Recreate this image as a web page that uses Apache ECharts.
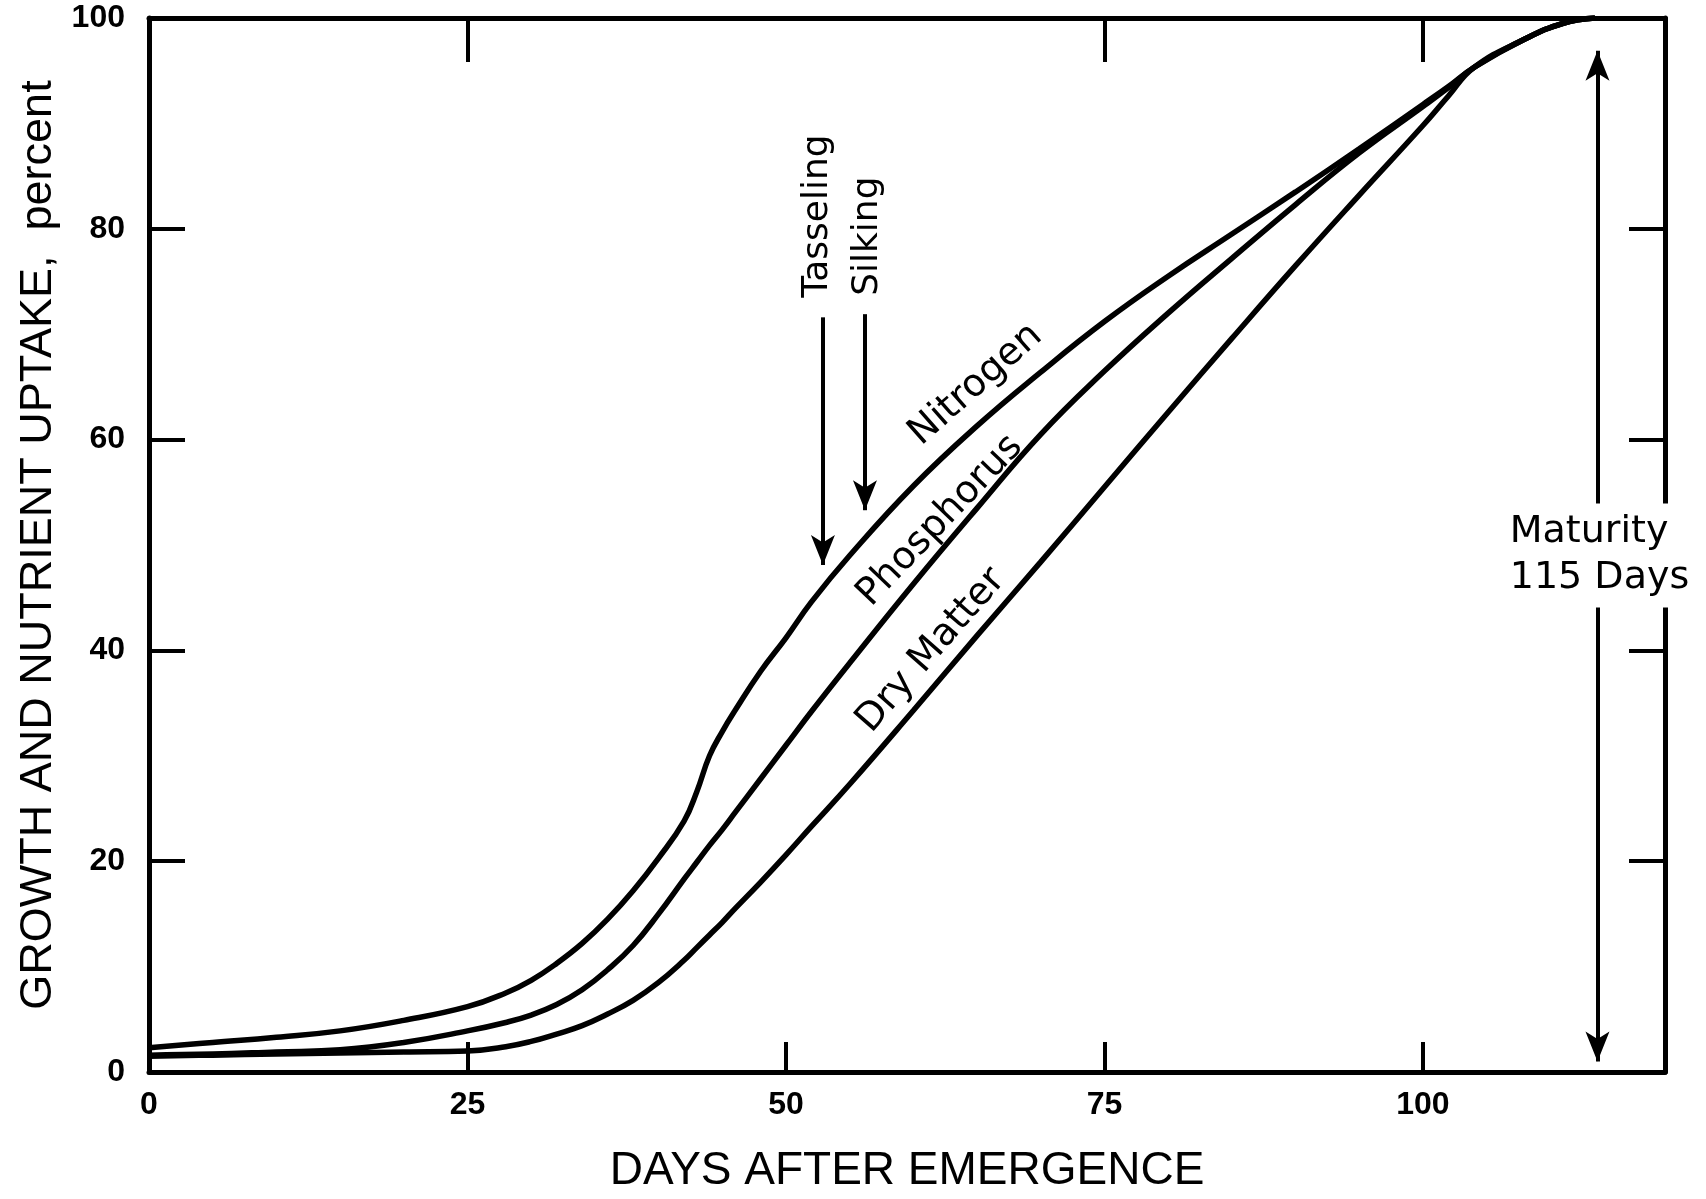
<!DOCTYPE html>
<html>
<head>
<meta charset="utf-8">
<script src="https://cdn.jsdelivr.net/npm/echarts@6.0.0/dist/echarts.min.js"></script>
<style>
  html, body { margin: 0; padding: 0; background: #fff; }
  #uptake { width: 1706px; height: 1199px; }
</style>
</head>
<body>
<div id="uptake"></div>
<script>
// days after emergence, shared by the three curves
var days = [0, 5, 10, 15, 20, 25, 28, 30, 32, 34, 36, 38, 40, 42, 43, 44, 45, 46, 48, 50,
            52, 55, 60, 65, 70, 75, 80, 85, 90, 95, 100, 102, 104, 108, 111, 113.5];

// percent of final uptake
var nitrogen   = [2.3, 2.8, 3.3, 3.9, 4.9, 6.2, 7.5, 8.7, 10.3, 12.2, 14.5, 17.2, 20.3, 23.8, 26.6, 30.0, 32.3, 34.3, 38.0, 41.2,
                  44.6, 49.0, 55.6, 61.3, 66.4, 71.2, 75.5, 79.5, 83.5, 87.6, 91.8, 93.5, 95.3, 98.0, 99.5, 100];
var phosphorus = [1.6, 1.7, 1.9, 2.1, 2.8, 3.9, 4.7, 5.4, 6.4, 7.8, 9.7, 12.0, 15.0, 18.3, 19.9, 21.5, 23.0, 24.6, 27.8, 31.0,
                  34.2, 38.8, 46.3, 53.5, 60.5, 66.5, 72.0, 77.2, 82.3, 87.2, 91.6, 93.4, 95.3, 98.0, 99.5, 100];
var dryMatter  = [1.5, 1.6, 1.7, 1.8, 1.9, 2.0, 2.4, 2.9, 3.6, 4.4, 5.5, 6.8, 8.5, 10.6, 11.8, 13.0, 14.2, 15.5, 18.0, 20.6,
                  23.3, 27.3, 34.3, 41.4, 48.4, 55.5, 62.6, 69.6, 76.5, 83.2, 89.8, 92.6, 95.3, 98.0, 99.5, 100];

// curve names with the point (day, percent) and angle where each name sits
var curveNames  = ['Nitrogen', 'Phosphorus', 'Dry Matter'];
var curveLabelAt = [[64.9, 65.2], [62.1, 52.3], [61.4, 40.0]];
var curveLabelAngle = [41.5, 46.3, 48.7];

// growth stages: [day, arrow start, arrow tip]
var stageNames  = ['Tasseling', 'Silking'];
var stageArrows = [[52.9, 71.6, 48.1], [56.2, 71.9, 53.3]];
var stageLabelAt = [[52.5, 81.2], [56.4, 79.3]];

// maturity arrow: day, upper piece, lower piece
var maturityDay = 113.7;
var maturityUp = [53.8, 96.9];
var maturityDown = [44.6, 1.0];
var maturityLabelAt = [106.5, 49.0];

var yTicks = [0, 20, 40, 60, 80, 100];
var xTopTicks = [25, 75, 100];

var tickFont = '"Liberation Sans Narrow", "Liberation Sans", sans-serif';
var textFont = '"DejaVu Sans", sans-serif';
var titleFont = '"Liberation Sans", sans-serif';

function pairs(ys) {
    return days.map(function (d, i) { return [d, ys[i]]; });
}

function curve(name, ys, idx) {
    return {
        name: name,
        type: 'line',
        data: pairs(ys),
        showSymbol: false,
        smooth: 0.45,
        silent: true,
        z: 3,
        lineStyle: { color: '#000', width: 5.5 },
        markPoint: {
            silent: true,
            symbol: 'circle',
            symbolSize: 0,
            data: [{
                coord: curveLabelAt[idx],
                label: {
                    show: true,
                    position: 'inside',
                    formatter: name,
                    rotate: curveLabelAngle[idx],
                    color: '#000',
                    fontFamily: textFont,
                    fontSize: 38
                }
            }]
        }
    };
}

var arrowLines = stageArrows.map(function (a) {
    return [{ coord: [a[0], a[1]] }, { coord: [a[0], a[2]] }];
});
arrowLines.push([{ coord: [maturityDay, maturityUp[0]] }, { coord: [maturityDay, maturityUp[1]] }]);
arrowLines.push([{ coord: [maturityDay, maturityDown[0]] }, { coord: [maturityDay, maturityDown[1]] }]);

var stageLabels = stageNames.map(function (s, i) {
    return {
        coord: stageLabelAt[i],
        label: {
            show: true, position: 'inside', formatter: s, rotate: 90,
            color: '#000', fontFamily: textFont, fontSize: 36
        }
    };
});
stageLabels.push({
    coord: maturityLabelAt,
    label: {
        show: true, position: 'right', distance: 0,
        formatter: 'Maturity\n115 Days',
        align: 'left',
        color: '#000', fontFamily: textFont, fontSize: 38, lineHeight: 46,
        backgroundColor: '#fff', padding: [6, 4, 6, 4]
    }
});

var notes = {
    name: 'notes',
    type: 'line',
    data: [],
    silent: true,
    z: 4,
    markLine: {
        silent: true,
        symbol: ['none', 'arrow'],
        symbolSize: [18, 30],
        label: { show: false },
        lineStyle: { color: '#000', width: 4, type: 'solid' },
        data: arrowLines
    },
    markPoint: {
        silent: true,
        symbol: 'circle',
        symbolSize: 0,
        data: stageLabels
    }
};

var axisLine = { show: true, onZero: false, lineStyle: { color: '#000', width: 5 } };

var option = {
    animation: false,
    backgroundColor: '#fff',
    grid: { left: 149, right: 41, top: 18, bottom: 124 },
    xAxis: [
        {
            type: 'value', min: 0, max: 119, interval: 25, position: 'bottom',
            name: 'DAYS AFTER EMERGENCE', nameLocation: 'middle', nameGap: 76,
            nameTextStyle: { color: '#000', fontSize: 46, fontFamily: titleFont },
            axisLine: axisLine,
            axisTick: { show: true, inside: true, length: 30, lineStyle: { color: '#000', width: 4 } },
            axisLabel: { color: '#000', fontSize: 32, fontWeight: 'bold', fontFamily: tickFont, margin: 17, showMaxLabel: false },
            splitLine: { show: false }
        },
        {
            type: 'value', min: 0, max: 119, interval: 25, position: 'top',
            axisLine: axisLine,
            axisTick: { show: true, inside: true, length: 44, customValues: xTopTicks, lineStyle: { color: '#000', width: 4 } },
            axisLabel: { show: false },
            splitLine: { show: false }
        }
    ],
    yAxis: [
        {
            type: 'value', min: 0, max: 100, interval: 20, position: 'left',
            name: 'GROWTH AND NUTRIENT UPTAKE,  percent', nameLocation: 'middle', nameGap: 67,
            nameTextStyle: { color: '#000', fontSize: 45, fontFamily: titleFont },
            axisLine: axisLine,
            axisTick: { show: true, inside: true, length: 36, customValues: yTicks, lineStyle: { color: '#000', width: 4 } },
            axisLabel: { color: '#000', fontSize: 32, fontWeight: 'bold', fontFamily: tickFont, margin: 24 },
            splitLine: { show: false }
        },
        {
            type: 'value', min: 0, max: 100, interval: 20, position: 'right',
            axisLine: axisLine,
            axisTick: { show: true, inside: true, length: 36, lineStyle: { color: '#000', width: 4 } },
            axisLabel: { show: false },
            splitLine: { show: false }
        }
    ],
    series: [
        curve(curveNames[0], nitrogen, 0),
        curve(curveNames[1], phosphorus, 1),
        curve(curveNames[2], dryMatter, 2),
        notes
    ]
};

var chart = echarts.init(document.getElementById('uptake'));
chart.setOption(option);
</script>
</body>
</html>
